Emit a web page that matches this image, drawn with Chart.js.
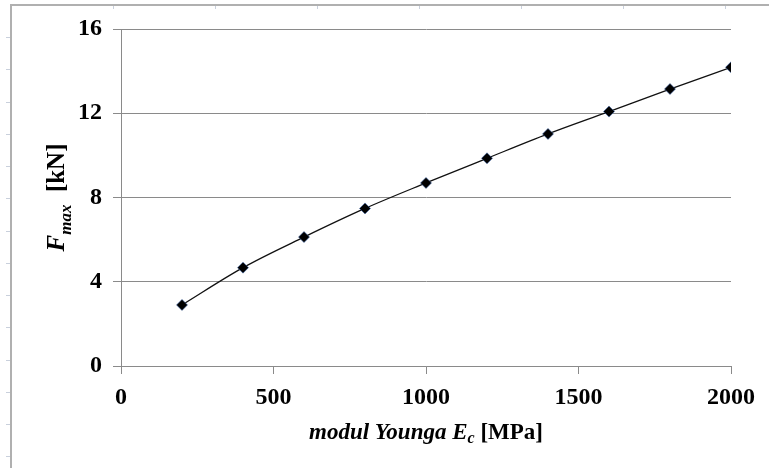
<!DOCTYPE html>
<html>
<head>
<meta charset="utf-8">
<script src="https://cdn.jsdelivr.net/npm/chart.js@4.4.1/dist/chart.umd.min.js"></script>
<style>
  html, body { margin: 0; padding: 0; background: #fff; }
  #wrap { width: 769px; height: 468px; }
</style>
</head>
<body>
<div id="wrap"><canvas id="chart" width="769" height="468"></canvas></div>
<script>
// ============ DATA ============
const youngModulus = [200, 400, 600, 800, 1000, 1200, 1400, 1600, 1800, 2000];   // E_c [MPa]
const forceMax = [2.90, 4.67, 6.12, 7.48, 8.69, 9.86, 11.02, 12.08, 13.15, 14.18]; // F_max [kN]
const xTicks = [0, 500, 1000, 1500, 2000];
const yTicks = [0, 4, 8, 12, 16];

const GRID = "#8a8a8a";
const SERIF = "'Liberation Serif', 'Times New Roman', serif";

// ============ PLUGINS ============
// page frame (ruler-like lines around the picture)
const framePlugin = {
  id: "frame",
  beforeDraw(chart) {
    const ctx = chart.ctx;
    ctx.save();
    ctx.strokeStyle = "#c9d0dc";
    ctx.lineWidth = 1;
    for (let y = 37; y < 468; y += 32.25) {
      ctx.beginPath(); ctx.moveTo(6, Math.round(y) + 0.5); ctx.lineTo(11, Math.round(y) + 0.5); ctx.stroke();
    }
    for (let x = 113; x < 769; x += 102) {
      ctx.beginPath(); ctx.moveTo(Math.round(x) + 0.5, 5); ctx.lineTo(Math.round(x) + 0.5, 9); ctx.stroke();
    }
    ctx.strokeStyle = "#b0b0b0";
    ctx.lineWidth = 2;
    ctx.beginPath();
    ctx.moveTo(11, 468); ctx.lineTo(11, 5); ctx.lineTo(769, 5);
    ctx.stroke();
    ctx.restore();
  }
};

function drawParts(ctx, parts, cx, cy) {
  let total = 0;
  parts.forEach(p => { ctx.font = p.font; p.w = ctx.measureText(p.text).width; total += p.w; });
  let x = cx - total / 2;
  parts.forEach(p => {
    ctx.font = p.font;
    ctx.fillText(p.text, x, cy + (p.dy || 0));
    x += p.w;
  });
}

// axis titles with italic / subscript parts
const titlesPlugin = {
  id: "titles",
  afterDraw(chart) {
    const ctx = chart.ctx;
    const area = chart.chartArea;
    ctx.save();
    ctx.fillStyle = "#000";
    ctx.textBaseline = "alphabetic";
    ctx.textAlign = "left";

    drawParts(ctx, [
      { text: "modul Younga E", font: "italic bold 23px " + SERIF },
      { text: "c", font: "italic bold 16px " + SERIF, dy: 4 },
      { text: " [MPa]", font: "bold 23px " + SERIF }
    ], (area.left + area.right) / 2, 439);

    ctx.translate(64, (area.top + area.bottom) / 2);
    ctx.rotate(-Math.PI / 2);
    drawParts(ctx, [
      { text: "F", font: "italic bold 25px " + SERIF },
      { text: "max", font: "italic bold 17px " + SERIF, dy: 7 },
      { text: "  [kN]", font: "bold 25px " + SERIF }
    ], 0, 0);
    ctx.restore();
  }
};

// ============ CHART ============
new Chart(document.getElementById("chart"), {
  type: "scatter",
  plugins: [framePlugin, titlesPlugin],
  data: {
    datasets: [{
      data: youngModulus.map((x, i) => ({ x, y: forceMax[i] })),
      showLine: true,
      borderColor: "#111",
      borderWidth: 1.3,
      cubicInterpolationMode: "monotone",
      pointStyle: "rectRot",
      pointRadius: 5.5,
      pointBackgroundColor: "#000",
      pointBorderColor: "rgba(60,100,170,0.55)",
      pointBorderWidth: 1
    }]
  },
  options: {
    responsive: false,
    animation: false,
    layout: { padding: { left: 0, top: 29, right: 38, bottom: 0 } },
    plugins: { legend: { display: false }, tooltip: { enabled: false } },
    scales: {
      x: {
        type: "linear",
        min: 0, max: 2000,
        afterBuildTicks: s => { s.ticks = xTicks.map(v => ({ value: v })); },
        afterFit: s => { s.height = 102; },
        grid: { color: "transparent", tickColor: GRID, tickLength: 8 },
        border: { color: GRID, width: 1 },
        ticks: { color: "#000", padding: 9, callback: v => String(v), font: { family: SERIF, size: 24, weight: "bold" } }
      },
      y: {
        min: 0, max: 16,
        afterBuildTicks: s => { s.ticks = yTicks.map(v => ({ value: v })); },
        afterFit: s => { s.width = 121; },
        grid: { color: GRID, tickColor: GRID, tickLength: 8 },
        border: { color: GRID, width: 1 },
        ticks: { color: "#000", padding: 11, callback: v => String(v), font: { family: SERIF, size: 24, weight: "bold" } }
      }
    }
  }
});
</script>
</body>
</html>
